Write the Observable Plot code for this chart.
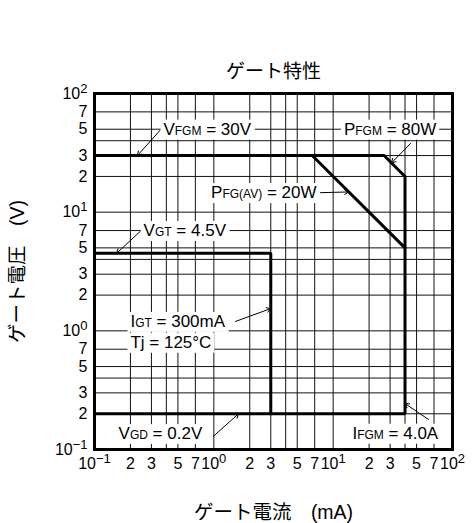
<!DOCTYPE html>
<html>
<head>
<meta charset="utf-8">
<script src="https://cdn.jsdelivr.net/npm/d3@7"></script>
<script src="https://cdn.jsdelivr.net/npm/@observablehq/plot@0.6"></script>
<style>
  body { margin: 0; background: #fff; }
</style>
</head>
<body>
<div id="chart"></div>
<script>
const FONT = "'Liberation Sans', Arial, 'Noto Sans CJK JP', sans-serif";

// Texts
const title = "ゲート特性";
const xLabel = "ゲート電流　(mA)";
const yLabel = "ゲート電圧　(V)";

// Log grid: labelled ticks and all grid lines
const tickValues = [0.1, 0.2, 0.3, 0.5, 0.7, 1, 2, 3, 5, 7, 10, 20, 30, 50, 70, 100];
const gridValues = [0.1, 0.2, 0.3, 0.4, 0.5, 0.7, 1, 2, 3, 4, 5, 7, 10, 20, 30, 40, 50, 70, 100];

// Peak limits: VFGM = 30V, PFGM = 80W, IFGM = 4.0A, VGD = 0.2V
const peakI = [0.1, 26.7, 40, 40, 0.1];
const peakV = [30, 30, 20, 0.2, 0.2];
// Average gate power PFG(AV) = 20W
const avgI = [6.67, 40];
const avgV = [30, 5];
// Trigger region: VGT = 4.5V, IGT = 300mA
const trigI = [0.1, 3, 3];
const trigV = [4.5, 4.5, 0.2];

// Annotations (_{..} marks the small letters)
const noteText   = ["V_{FGM} = 30V", "P_{FGM} = 80W", "P_{FG(AV)} = 20W", "V_{GT} = 4.5V", "I_{GT} = 300mA", "Tj = 125°C", "V_{GD} = 0.2V", "I_{FGM} = 4.0A"];
const noteI      = [0.378, 12.3, 7.25, 0.258, 0.2, 0.2, 0.159, 14.5];
const noteV      = [50, 50, 14.6, 7, 1.2, 0.8, 0.136, 0.137];
const noteAnchor = ["start", "start", "end", "start", "start", "start", "start", "start"];

// Leader arrows from each annotation to its curve
const leaderFromI = [0.372, 44.5, 7.83, 0.251, 1.52, 0.99, 63];
const leaderFromV = [51.7, 37.9, 14.6, 7.14, 1.2, 0.129, 0.179];
const leaderToI   = [0.229, 30.8, 13.5, 0.153, 3, 1.61, 40];
const leaderToV   = [30, 26, 14.8, 4.5, 1.54, 0.2, 0.244];

const curves = [
  ...peakI.map((x, k) => ({curve: "peak", i: x, v: peakV[k]})),
  ...avgI.map((x, k) => ({curve: "avg", i: x, v: avgV[k]})),
  ...trigI.map((x, k) => ({curve: "trig", i: x, v: trigV[k]}))
];
const notes = noteText.map((t, k) => ({text: t, i: noteI[k], v: noteV[k], anchor: noteAnchor[k]}));
const leaders = leaderFromI.map((x, k) => ({i1: x, v1: leaderFromV[k], i2: leaderToI[k], v2: leaderToV[k]}));

// 10^k for decades, leading digit otherwise
const fmt = d => {
  const e = Math.round(Math.log10(d));
  if (Math.abs(d - 10 ** e) < 1e-9) return `10^${e}`;
  return String(Math.round(d / 10 ** Math.floor(Math.log10(d) + 1e-9)));
};

const plot = Plot.plot({
  width: 472,
  height: 523,
  marginLeft: 94,
  marginRight: 20,
  marginTop: 93,
  marginBottom: 74,
  style: {fontFamily: FONT, fontSize: "16px", color: "#000", background: "#fff"},
  x: {type: "log", domain: [0.1, 100], axis: null},
  y: {type: "log", domain: [0.1, 100], axis: null},
  marks: [
    Plot.ruleX(gridValues, {stroke: "#111", strokeWidth: 1}),
    Plot.ruleY(gridValues, {stroke: "#111", strokeWidth: 1}),
    Plot.line(curves, {x: "i", y: "v", z: "curve", stroke: "#000", strokeWidth: 3, strokeLinejoin: "miter"}),
    Plot.arrow(leaders, {x1: "i1", y1: "v1", x2: "i2", y2: "v2", stroke: "#000", strokeWidth: 1, headLength: 7}),
    Plot.text(notes.filter(d => d.anchor === "start"), {x: "i", y: "v", text: "text", textAnchor: "start", fontSize: 17, fill: "#000"}),
    Plot.text(notes.filter(d => d.anchor === "end"), {x: "i", y: "v", text: "text", textAnchor: "end", fontSize: 17, fill: "#000"}),
    Plot.frame({stroke: "#000", strokeWidth: 3}),
    // tick labels
    Plot.text(tickValues, {x: d => d, text: fmt, frameAnchor: "bottom", lineAnchor: "top", textAnchor: "middle", dy: 8, fontSize: 16, fill: "#000"}),
    Plot.text(tickValues, {y: d => d, text: fmt, frameAnchor: "left", lineAnchor: "middle", textAnchor: "end", dx: -7, fontSize: 16, fill: "#000"}),
    // title and axis labels
    Plot.text([title], {frameAnchor: "top", lineAnchor: "middle", textAnchor: "middle", dy: -22, fontSize: 19, fill: "#000"}),
    Plot.text([xLabel], {frameAnchor: "bottom", lineAnchor: "middle", textAnchor: "middle", dy: 63, fontSize: 19.5, fill: "#000"}),
    Plot.text([yLabel], {frameAnchor: "left", lineAnchor: "middle", textAnchor: "middle", dx: -77, rotate: -90, fontSize: 19.5, fill: "#000"})
  ]
});

document.getElementById("chart").append(plot);

const svgNS = "http://www.w3.org/2000/svg";
d3.select(plot).selectAll("text").each(function () {
  const t = this.textContent;
  // decade labels with superscript exponents
  const m = /^10\^(-?\d+)$/.exec(t);
  if (m) {
    this.textContent = "10";
    const sup = document.createElementNS(svgNS, "tspan");
    sup.setAttribute("font-size", 13);
    sup.setAttribute("dy", -6);
    sup.textContent = m[1].replace("-", "\u2212");
    this.appendChild(sup);
    return;
  }
  if (!t.includes(" = ")) return;
  // annotation: small letters after the symbol
  if (t.includes("_{")) {
    const parts = t.split(/_\{([^}]*)\}/);
    this.textContent = "";
    parts.forEach((p, k) => {
      const span = document.createElementNS(svgNS, "tspan");
      if (k % 2 === 1) span.setAttribute("font-size", 12);
      span.textContent = p;
      this.appendChild(span);
    });
  }
  // white label box behind the annotation
  const b = this.getBBox();
  const rect = document.createElementNS(svgNS, "rect");
  rect.setAttribute("x", b.x - 3);
  rect.setAttribute("y", b.y);
  rect.setAttribute("width", b.width + 6);
  rect.setAttribute("height", b.height + 1);
  rect.setAttribute("fill", "#fff");
  if (this.getAttribute("transform")) rect.setAttribute("transform", this.getAttribute("transform"));
  this.parentNode.insertBefore(rect, this);
});
</script>
</body>
</html>
